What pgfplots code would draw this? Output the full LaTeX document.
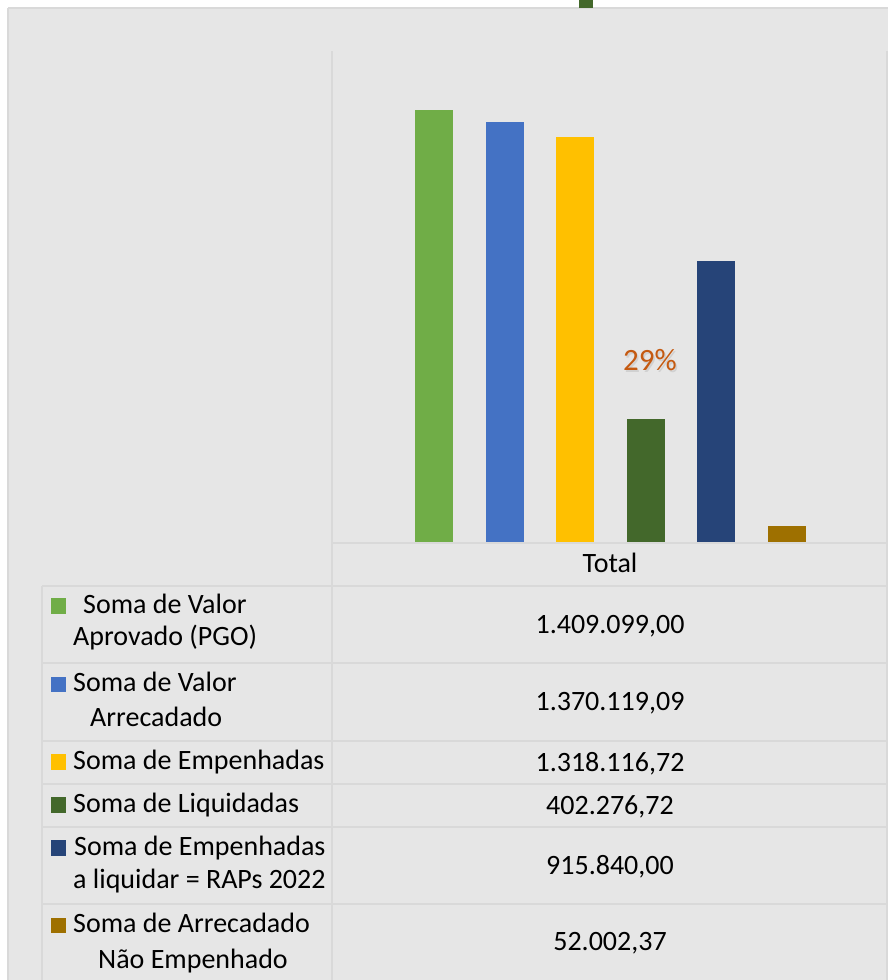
\documentclass[border=0pt]{standalone}
\usepackage{pgfplots}
\pgfplotsset{compat=1.18}
\usepackage{fontspec}
\setmainfont{Carlito}
\definecolor{panel}{HTML}{E6E6E6}
\definecolor{grid}{HTML}{D9D9D9}
\definecolor{cA}{HTML}{70AD47}
\definecolor{cB}{HTML}{4472C4}
\definecolor{cC}{HTML}{FFC000}
\definecolor{cD}{HTML}{43682B}
\definecolor{cE}{HTML}{264478}
\definecolor{cF}{HTML}{9E7000}
\definecolor{lab}{HTML}{C55A11}
\begin{document}
\begin{tikzpicture}[x=1pt,y=1pt]
\useasboundingbox (0,0) rectangle (888,980);
\fill[white] (0,0) rectangle (888,980);
\fill[panel] (8,0) rectangle (888,972);
\draw[grid,line width=2pt] (8,972)--(888,972);
\draw[grid,line width=2pt] (8,0)--(8,972);
\fill[cD] (579,972) rectangle (593,980);
\begin{axis}[
  at={(332pt,438pt)}, anchor=south west,
  scale only axis, width=554pt, height=491pt,
  hide axis,
  xmin=-1.0054, xmax=0.9946,
  ymin=0, ymax=1600000,
  ybar=32.6pt, bar width=38pt,
]
\addplot[fill=cA,draw=none] coordinates {(0,1409099.00)};
\addplot[fill=cB,draw=none] coordinates {(0,1370119.09)};
\addplot[fill=cC,draw=none] coordinates {(0,1318116.72)};
\addplot[fill=cD,draw=none] coordinates {(0,402276.72)};
\addplot[fill=cE,draw=none] coordinates {(0,915840.00)};
\addplot[fill=cF,draw=none] coordinates {(0,52002.37)};
\end{axis}
% table lines
\begin{scope}[grid,line width=2.5pt]
\draw (332,0)--(332,929);
\draw (887,0)--(887,929);
\draw (332,437)--(887,437);
\foreach \yy in {394,317,239,196,153,76} {\draw (42,\yy)--(887,\yy);}
\draw (42,0)--(42,394);
\end{scope}
% legend squares
\fill[cA] (51,366) rectangle (66,382);
\fill[cB] (51,288) rectangle (66,303);
\fill[cC] (51,210) rectangle (66,226);
\fill[cD] (51,167) rectangle (66,183);
\fill[cE] (51,124) rectangle (66,140);
\fill[cF] (51,47) rectangle (66,62);
\begin{scope}[every node/.style={inner sep=0pt,anchor=base west,font=\fontsize{28}{33}\selectfont}]
\node at (83,366) {Soma de Valor};
\node at (73,334) {Aprovado (PGO)};
\node at (73,288) {Soma de Valor};
\node at (90,253) {Arrecadado};
\node at (73,210) {Soma de Empenhadas};
\node at (73,167) {Soma de Liquidadas};
\node at (74,124) {Soma de Empenhadas};
\node at (73,91) {a liquidar = RAPs 2022};
\node at (73,47) {Soma de Arrecadado};
\node at (98,12) {Não Empenhado};
\end{scope}
\begin{scope}[every node/.style={inner sep=0pt,anchor=base,font=\fontsize{28}{33}\selectfont}]
\node at (610,407) {Total};
\node at (610,346.5) {1.409.099,00};
\node at (610,269) {1.370.119,09};
\node at (610,208.5) {1.318.116,72};
\node at (610,165.5) {402.276,72};
\node at (610,105.5) {915.840,00};
\node at (610,29) {52.002,37};
\end{scope}
\node[inner sep=0pt,anchor=base,font=\fontsize{31}{36}\selectfont,text=black!18] at (651.5,607.5) {29\%};
\node[inner sep=0pt,anchor=base,font=\fontsize{31}{36}\selectfont,text=lab] at (650,609) {29\%};
\end{tikzpicture}
\end{document}
